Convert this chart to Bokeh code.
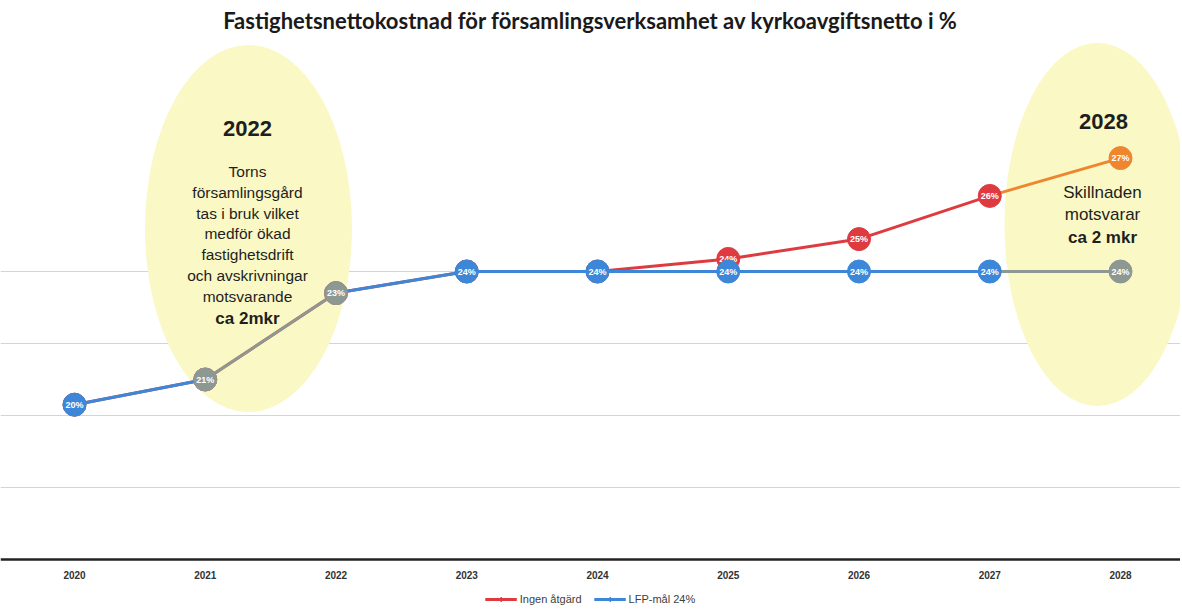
from bokeh.plotting import figure
from bokeh.models import Range1d, FixedTicker, Legend, LegendItem
from bokeh.core.properties import value
from bokeh.embed import file_html
from bokeh.resources import INLINE

# ---- data ----
years = [2020, 2021, 2022, 2023, 2024, 2025, 2026, 2027, 2028]
tick_labels = ["2020", "2021", "2022", "2023", "2024", "2025", "2026", "2027", "2028"]
lfp_mal = [20.3, 21.0, 23.4, 24.0, 24.0, 24.0, 24.0, 24.0, 24.0]
ingen_atgard = [20.3, 21.0, 23.4, 24.0, 24.0, 24.35, 24.9, 26.1, 27.15]
series_names = ["Ingen åtgärd", "LFP-mål 24%"]
title_text = "Fastighetsnettokostnad för församlingsverksamhet av kyrkoavgiftsnetto i %"
axis_base = 16.0

# ---- styles ----
BLUE = "#3C87D8"
RED = "#DE3B41"
ORANGE = "#EE8630"
GRAY = "#8E9893"
lfp_seg_colors = [BLUE, GRAY, BLUE, BLUE, BLUE, BLUE, BLUE, GRAY]
lfp_pt_colors = [BLUE, GRAY, GRAY, BLUE, BLUE, BLUE, BLUE, BLUE, GRAY]
ingen_seg_colors = [RED] * 7 + [ORANGE]
ingen_pt_colors = [RED] * 8 + [ORANGE]

W, H = 1180, 610
PX_PER_YEAR = 130.75
PX_PER_UNIT = 36.0
FRAME_TOP = 34
AXIS_Y = 559

x0 = 2020 - 74 / PX_PER_YEAR
x1 = x0 + W / PX_PER_YEAR
y0 = axis_base - (H - AXIS_Y) / PX_PER_UNIT
y1 = axis_base + (AXIS_Y - FRAME_TOP) / PX_PER_UNIT


def py(pix_y):
    """pixel y -> data y"""
    return axis_base + (AXIS_Y - pix_y) / PX_PER_UNIT


def px(pix_x):
    return 2020 + (pix_x - 74) / PX_PER_YEAR


p = figure(width=W, height=H, x_range=Range1d(x0, x1), y_range=Range1d(y0, y1),
           output_backend="svg", toolbar_location=None,
           min_border_left=0, min_border_right=0, min_border_top=FRAME_TOP,
           min_border_bottom=0)
p.title.text = title_text
p.title.align = "center"
p.title.text_font = "Lato"
p.title.text_font_style = "bold"
p.title.text_font_size = "22px"
p.title.text_color = "#1a1a1a"
p.title.standoff = 2
p.outline_line_color = None
p.background_fill_color = "white"
p.border_fill_color = "white"

p.yaxis.visible = False
p.xgrid.visible = False
p.ygrid.ticker = FixedTicker(ticks=[18, 20, 22, 24])
p.ygrid.grid_line_color = "#d4d4d4"
p.ygrid.grid_line_width = 1

p.xaxis.fixed_location = axis_base
p.xaxis.ticker = FixedTicker(ticks=years)
p.xaxis.major_label_overrides = {y: t for y, t in zip(years, tick_labels)}
p.xaxis.axis_line_color = "#222222"
p.xaxis.axis_line_width = 2.5
p.xaxis.major_tick_line_color = None
p.xaxis.minor_tick_line_color = None
p.xaxis.major_label_standoff = 5
p.xaxis.major_label_text_font = "Liberation Sans"
p.xaxis.major_label_text_font_style = "bold"
p.xaxis.major_label_text_font_size = "10px"
p.xaxis.major_label_text_color = "#333333"

# ---- highlight ellipses ----
p.ellipse(x=[px(248)], y=[py(228)], width=[207], height=[367],
          width_units="screen", height_units="screen",
          fill_color="#FAF8C4", line_color=None)
p.ellipse(x=[px(1097)], y=[py(224)], width=[186], height=[363],
          width_units="screen", height_units="screen",
          fill_color="#FAF8C4", line_color=None)

# ---- series ----
def draw_series(vals, seg_colors, pt_colors, main_color):
    seg = p.segment(x0=years[:-1], y0=vals[:-1], x1=years[1:], y1=vals[1:],
                    line_color=seg_colors, line_width=3)
    dia = p.scatter(x=years, y=vals, marker="diamond", size=8,
                    fill_color=main_color, line_color=main_color)
    p.scatter(x=years, y=vals, marker="circle", size=23,
              fill_color=pt_colors, line_color=pt_colors, line_width=1)
    p.text(x=years, y=vals, text=[f"{round(v)}%" for v in vals],
           text_align="center", text_baseline="middle", text_color="white",
           text_font=value("Liberation Sans"), text_font_style="bold",
           text_font_size="9px")
    return seg, dia

r_seg, r_dia = draw_series(ingen_atgard, ingen_seg_colors, ingen_pt_colors, RED)
b_seg, b_dia = draw_series(lfp_mal, lfp_seg_colors, lfp_pt_colors, BLUE)

# ---- annotation texts ----
TXT = "#1e1e1e"
FONT = value("Liberation Sans")
p.text(x=[px(247)], y=[py(128)], text=["2022"], text_align="center", text_baseline="middle",
       text_font=FONT, text_font_style="bold", text_font_size="22px", text_color=TXT)
left_lines = ["Torns", "församlingsgård", "tas i bruk vilket", "medför ökad",
              "fastighetsdrift", "och avskrivningar", "motsvarande"]
p.text(x=[px(247)] * len(left_lines), y=[py(171 + 20.8 * i) for i in range(len(left_lines))],
       text=left_lines, text_align="center", text_baseline="middle",
       text_font=FONT, text_font_size="15.5px", text_color=TXT)
p.text(x=[px(247)], y=[py(318)], text=["ca 2mkr"], text_align="center", text_baseline="middle",
       text_font=FONT, text_font_style="bold", text_font_size="17px", text_color=TXT)

p.text(x=[px(1103)], y=[py(121)], text=["2028"], text_align="center", text_baseline="middle",
       text_font=FONT, text_font_style="bold", text_font_size="22px", text_color=TXT)
p.text(x=[px(1102)] * 2, y=[py(192), py(214)], text=["Skillnaden", "motsvarar"],
       text_align="center", text_baseline="middle",
       text_font=FONT, text_font_size="17px", text_color=TXT)
p.text(x=[px(1102)], y=[py(237)], text=["ca 2 mkr"], text_align="center", text_baseline="middle",
       text_font=FONT, text_font_style="bold", text_font_size="17px", text_color=TXT)

# ---- legend ----
legend = Legend(items=[LegendItem(label=series_names[0], renderers=[r_seg, r_dia], index=0),
                       LegendItem(label=series_names[1], renderers=[b_seg, b_dia], index=0)],
                orientation="horizontal", location="bottom_center",
                border_line_color=None, background_fill_alpha=0,
                label_text_font="Liberation Sans", label_text_font_size="11px",
                label_text_color="#404040", glyph_width=32, glyph_height=12,
                spacing=12, padding=0, margin=5, label_standoff=3,
                label_height=12)
p.add_layout(legend, "center")

open("out.html", "w").write(file_html(p, INLINE))
